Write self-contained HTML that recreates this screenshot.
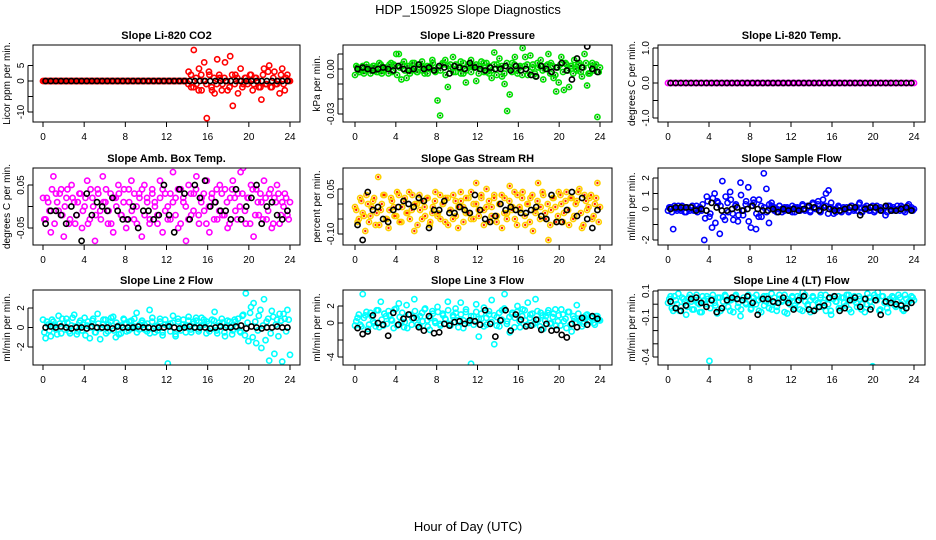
<!DOCTYPE html>
<html><head><meta charset="utf-8"><style>
html,body{margin:0;padding:0;background:#fff;}
svg{display:block;font-family:"Liberation Sans",sans-serif;}
</style></head><body>
<svg id="chart" width="936" height="540" viewBox="0 0 936 540" xmlns="http://www.w3.org/2000/svg">
<text x="468" y="14" font-size="13" text-anchor="middle">HDP_150925  Slope Diagnostics</text>
<text x="468" y="531" font-size="13" text-anchor="middle">Hour of Day (UTC)</text>
</svg>
<script>
const xTicks=[0,4,8,12,16,20,24];
const blackHours=[0.25,0.75,1.25,1.75,2.25,2.75,3.25,3.75,4.25,4.75,5.25,5.75,6.25,6.75,7.25,7.75,8.25,8.75,9.25,9.75,10.25,10.75,11.25,11.75,12.25,12.75,13.25,13.75,14.25,14.75,15.25,15.75,16.25,16.75,17.25,17.75,18.25,18.75,19.25,19.75,20.25,20.75,21.25,21.75,22.25,22.75,23.25,23.75];

const titles=["Slope Li-820 CO2","Slope Li-820 Pressure","Slope Li-820 Temp.","Slope Amb. Box Temp.","Slope Gas Stream RH","Slope Sample Flow","Slope Line 2 Flow","Slope Line 3 Flow","Slope Line 4 (LT) Flow"];
const yTitles=["Licor ppm per min.","kPa per min.","degrees C per min.","degrees C per min.","percent per min.","ml/min per min.","ml/min per min.","ml/min per min.","ml/min per min."];
const yTickVals=[[5,0,-5,-10],[0.01,0,-0.01,-0.02,-0.03],[1,0.5,0,-0.5,-1],[0.05,0,-0.05],[0.05,0,-0.05,-0.1],[2,1,0,-1,-2],[2,0,-2],[2,0,-2,-4],[0.1,0,-0.1,-0.2,-0.3,-0.4]];
const yTickLabels=[["5","0","","-10"],["","0.00","","","-0.03"],["1.0","","0.0","","-1.0"],["0.05","","-0.05"],["0.05","","","-0.10"],["2","1","0","","-2"],["2","0","-2"],["2","0","","-4"],["0.1","","-0.1","","","-0.4"]];

const co2Color=[0,0,0,0,0,0,0,0,0,0,0,0,0,0,0,0,0,0,0,0,0,0,0,0,0,0,0,0,0,0,0,0,0,0,0,0,0,0,0,0,0,0,0,0,0,0,0,0,0,0,0,0,0,0,0,0,3,-2,10,-1,4,-3,6,-12,2,-3,-4,7,1,-1,6,-3,8,-8,2,-4,4,-1,1,0,2,-1,1,-2,-6,4,-1,5,-2,3,-1,-4,4,-3,2,0];
const co2Core=[0,0,0,0,0,0,0,0,0,0,0,0,0,0,0,0,0,0,0,0,0,0,0,0,0,0,0,0,0,0,0,0,0,0,0,0,0,0,0,0,0,0,0,0,0,0,0,0,0,0,0,0,0,0,0,0,-1,2,-2,1,-3,2,0,-1,3,-2,1,-1,2,-3,1,0,-2,2,-1,1,0,-2,1,-1,2,-3,1,0,-2,2,-1,3,-2,1,-1,0,2,-1,1,0];
const co2Black=[0,0,0,0,0,0,0,0,0,0,0,0,0,0,0,0,0,0,0,0,0,0,0,0,0,0,0,0,0,0,0,0,0,0,0,0,0,0,0,0,0,0,0,0,0,0,0,0];
const presColor=[-.004,.001,-.002,.002,-.001,.001,-.003,.002,0,-.002,.003,-.001,.001,-.003,.004,.003,.01,.01,-.007,.005,-.006,.002,-.001,.004,-.002,.001,.005,-.003,.002,0,.006,-.001,-.021,-.031,.004,.006,-.012,.003,.008,-.002,.001,.005,-.003,-.009,.003,.006,.002,-.008,.002,.005,-.002,.004,-.003,-.006,.011,.003,.007,-.005,-.01,-.028,-.017,.004,.008,-.003,.002,.014,.008,-.004,.009,.003,-.005,.001,.006,-.007,.002,.01,.004,-.006,-.015,-.009,.008,-.014,.003,-.012,.002,.006,-.001,.004,-.005,.01,-.011,-.003,.004,.002,-.032,.001];
const presCore=[.002,-.002,.001,-.003,.003,0,-.001,.002,-.002,.004,-.003,.001,0,.003,-.002,.002,-.004,.001,.003,-.001,.002,-.003,.004,0,-.002,.003,-.001,.001,-.003,.002,.004,-.002,.001,-.001,.003,-.004,.002,0,-.002,.003,.001,-.003,.004,-.001,.002,-.002,.001,.003,-.003,0,.004,-.002,.002,-.001,.003,-.004,.001,.002,-.003,.004,0,-.002,.003,-.001,.001,-.004,.002,.003,-.002,.001,-.003,.004,.002,-.001,0,.003,-.003,.002,-.004,.001,.003,-.002,.004,-.001,.002,-.003,0,.003,-.002,.001,.004,-.003,.002,-.001,.003,-.002];
const presBlack=[0,.001,0,-.001,0,.001,0,-.001,.002,0,-.001,0,.003,0,.001,-.001,.002,.001,-.003,.002,.001,0,.004,.001,0,-.001,.001,0,0,.002,-.001,.002,-.001,0,-.004,-.005,.002,0,-.002,.001,.004,-.001,-.007,.007,.001,.015,0,-.002];
const tempColor=[0,0,0,0,0,0,0,0,0,0,0,0,0,0,0,0,0,0,0,0,0,0,0,0,0,0,0,0,0,0,0,0,0,0,0,0,0,0,0,0,0,0,0,0,0,0,0,0,0,0,0,0,0,0,0,0,0,0,0,0,0,0,0,0,0,0,0,0,0,0,0,0,0,0,0,0,0,0,0,0,0,0,0,0,0,0,0,0,0,0,0,0,0,0,0,0];
const tempCore=[0,0,0,0,0,0,0,0,0,0,0,0,0,0,0,0,0,0,0,0,0,0,0,0,0,0,0,0,0,0,0,0,0,0,0,0,0,0,0,0,0,0,0,0,0,0,0,0];
const tempBlack=[0,0,0,0,0,0,0,0,0,0,0,0,0,0,0,0,0,0,0,0,0,0,0,0,0,0,0,0,0,0,0,0,0,0,0,0,0,0,0,0,0,0,0,0,0,0,0,0];
const ambColor=[.02,-.03,.01,-.06,.07,.03,-.01,.04,-.07,.02,-.04,.05,.01,-.02,.03,-.05,0,.06,-.03,.02,-.08,.04,-.01,.07,.01,-.04,.03,-.06,.02,.05,-.02,.01,-.05,.04,.06,-.03,0,.03,-.07,.05,.02,-.04,.04,.01,-.02,.06,-.06,.03,0,-.03,.08,.02,-.05,.04,.01,-.08,.05,-.02,.03,.07,-.04,.02,-.01,.06,-.06,.03,.01,-.03,.05,-.02,.04,-.05,.02,.06,-.01,.03,.08,.09,-.04,.02,.05,-.07,.04,-.02,.01,.06,-.03,.03,-.05,.02,.05,-.04,.01,.03,-.02,.01];
const ambCore=[-.03,.02,-.01,.04,-.04,.01,.03,-.02,0,.04,-.03,.02,-.04,.01,.03,-.01,.02,-.04,.04,0,-.02,.03,-.03,.01,.04,-.01,-.04,.02,0,.03,-.02,.04,-.03,.01,-.01,.03,-.04,.02,.04,-.02,.01,-.03,.03,0,-.04,.02,.04,-.01,-.03,.03,.01,-.02,.04,-.04,.02,0,-.03,.03,-.01,.04,-.02,.01,.03,-.04,0,.02,-.03,.04,-.01,.03,-.02,.01,-.04,.04,.02,-.03,0,.03,-.01,.02,-.04,.04,-.02,.01,.03,-.03,.02,-.01,.04,-.04,.01,.03,-.02,0,.02,-.03];
const ambBlack=[-.04,-.01,-.01,-.02,-.04,0,-.02,-.08,.03,-.02,.01,0,-.01,.02,-.01,-.03,-.03,0,-.05,-.01,-.01,-.03,-.02,.05,-.02,-.06,.04,.03,-.03,.05,.02,.06,0,.01,-.01,-.01,-.03,.04,-.03,0,.02,.05,-.04,0,.01,-.02,-.03,-.01];
const rhColor=[-.01,-.06,.02,-.03,-.09,0,-.04,.01,-.07,.09,-.02,.03,-.05,-.08,.02,-.01,-.04,.03,-.06,.01,-.03,.04,-.02,-.09,0,.03,-.05,-.01,.02,-.07,-.03,.01,-.04,.03,0,-.06,.02,-.02,-.05,.01,-.08,.04,-.01,-.03,.02,-.05,0,.07,-.04,.02,-.02,.05,-.06,-.01,.03,-.04,0,-.08,.02,-.03,.06,-.01,-.05,.03,-.02,.04,-.07,0,.02,-.09,-.03,.07,-.01,.03,-.05,-.12,-.02,.02,-.06,.04,0,-.03,.04,-.07,.02,-.04,.01,.05,-.08,.03,-.02,.02,-.05,0,.07,-.01];
const rhCore=[-.02,-.05,.01,-.04,.03,-.06,-.01,.02,-.03,-.07,0,.03,-.05,-.02,.01,-.04,.04,-.06,-.01,.02,-.03,-.05,.03,0,-.07,-.02,.01,-.04,.02,-.06,-.01,.04,-.03,-.05,0,.02,-.07,-.02,.03,-.04,-.01,.01,-.06,.02,-.03,.04,-.05,0,-.02,.03,-.07,-.01,.01,-.04,.02,-.06,0,.03,-.03,-.05,.01,-.02,.04,-.07,-.01,.02,-.04,0,-.06,.03,-.02,.01,-.05,.04,-.03,0,-.07,.02,-.01,-.04,.03,-.06,.01,-.02,.02,-.05,0,.04,-.03,-.07,.01,-.01,.03,-.04,.02,-.06];
const rhBlack=[-.07,-.12,.04,-.02,-.01,-.05,-.06,-.02,-.01,.01,0,-.01,.02,.01,-.08,-.02,-.02,.01,-.03,-.03,-.01,-.02,-.03,.03,-.02,-.05,-.06,-.04,0,-.02,-.01,-.02,-.03,-.03,-.02,-.01,-.04,-.05,.03,-.06,-.06,-.02,.04,-.04,.02,-.05,-.08,-.02];
const flowColor=[-.1,.1,-1.3,0,.2,-.1,.1,-.2,0,.1,-.1,.2,0,-.1,-2,.8,-.5,-1.2,1,.5,-1.6,1.8,-.7,.4,1.1,-.3,.2,-.8,1.7,-.4,.3,1.4,-1.2,.6,-1.3,-.5,.2,2.3,1.3,-.9,.4,.1,-.2,.2,0,-.1,.1,0,-.2,.1,0,-.1,.2,0,.1,-.1,.3,0,.5,-.1,.2,1,1.2,.4,-.3,0,.1,-.2,0,.1,-.1,.2,0,-.1,.4,-.2,.1,0,-.1,.2,-.1,0,.1,-.1,-.4,.2,0,.1,-.1,0,.2,-.1,0,.3,.1,0];
const flowCore=[.1,-.2,.2,-.1,0,.2,-.2,.1,-.1,.2,0,-.2,.1,.3,-.6,.5,-.3,.7,-.9,.4,.2,-.5,.8,-.2,.6,-.7,.3,-.4,.9,-.1,.5,-.8,.2,.4,-.3,.6,-.5,.1,-.2,.3,.2,-.1,0,.2,-.2,.1,0,-.1,.2,-.2,.1,0,.3,-.1,.2,-.2,.4,.1,.3,-.2,.6,.2,-.3,.1,0,-.2,.2,-.1,.1,0,-.2,.2,-.1,.1,.3,-.2,0,.2,-.1,.1,-.2,.2,0,-.1,.1,-.2,.2,-.1,0,.2,-.1,.1,-.2,.2,0,-.1];
const flowBlack=[0,.1,.1,.1,.1,-.1,0,-.1,.4,.1,-.1,-.1,0,.1,-.1,0,.2,0,-.1,-.1,0,-.2,0,-.1,0,-.1,0,.2,.1,-.1,.1,0,-.1,-.1,0,.1,.1,-.4,0,.1,.1,-.1,.2,-.1,-.1,0,.1,-.1];
const line2Color=[.8,-1.1,.3,-.9,.6,-.2,1.2,-.6,.4,.9,-.4,.2,1.3,-.7,.5,-.3,1,.2,-1.1,.7,-.5,1.4,-1.2,.3,.8,-.4,.6,1.1,-1,.2,-.6,.9,.4,-.3,.7,.1,1.5,-.2,.5,.3,-.4,1.8,.6,-.5,.2,.9,-.8,.3,-3.7,.4,1.2,-.9,.6,-.3,.8,.2,1.1,-.5,.4,.7,-.2,1,.3,.6,-.4,.8,1.6,-.6,.2,.5,-.9,.7,.1,-.3,.6,.9,-.5,1.3,3.5,-1.4,2.1,2.5,-1.6,1.2,-2.1,2.9,.6,-3.4,1.7,-2.7,.8,1.4,-3.5,.9,1.8,-2.8];
const line2Core=[-.5,.6,-.3,.8,.2,-.7,.4,.9,-.2,.5,-.6,1,.1,-.4,.7,.3,-.8,.6,0,.9,-.5,.4,-.1,.8,-.6,.3,1,-.3,.5,-.7,.2,.8,-.4,.6,-.1,.9,-.5,.3,.7,-.2,.4,-.6,1,.1,-.3,.6,-.5,.8,.2,-.4,.5,-.7,.9,0,.3,-.5,.7,-.2,.6,1,-.4,.2,.8,-.6,.4,-.1,.7,-.3,.5,.9,-.5,.2,.6,-.7,.8,0,-.4,1.2,-.8,.5,1.5,-1,.6,-.3,1.8,.2,-1.3,.9,-.6,1.1,.3,-.9,.7,1.4,-.4,.8];
const line2Black=[0,.1,0,.1,0,-.1,0,0,-.1,.1,0,0,0,-.1,.1,0,0,0,.1,0,0,-.1,0,0,.1,0,-.1,0,.1,0,0,0,-.1,0,.1,0,0,.1,.2,-.1,.1,0,-.1,0,0,.1,0,0];
const line3Color=[-.3,.6,-.2,3.4,.9,-.7,1.2,.2,-.4,1.5,2.5,-.3,.8,1.4,.4,-.6,1.7,2.3,.1,-.5,2.1,1,-.2,2.8,.6,-.4,1.2,1.6,.3,-.8,1.4,.2,1.9,-.1,1.1,.5,2.5,-.3,.9,1.7,.3,2.4,-.6,1.3,.2,-4.8,.8,2.2,-1.6,.5,1.8,-.2,1,2.7,-2.5,.7,-.4,1.5,3.4,.2,-1.1,1.2,.6,2,-.5,1.6,.3,2.4,1,-.2,2.8,.4,1.2,-.7,.8,1.5,0,1.1,-.3,.9,1.6,.2,-.6,1.3,-1,.5,2.1,.3,-.4,.7,1,.2,.6,-.2,.8,.3];
const line3Core=[.2,1,-.4,.6,1.3,-.2,.8,0,1.5,-.5,.4,1.1,-.1,.9,.3,1.6,-.3,.7,1.2,.1,-.6,1,.5,1.4,-.2,.8,.2,1.7,-.4,.6,1.1,0,1.3,-.3,.9,.4,1.5,-.1,.7,1.2,-.5,1,.3,1.6,0,.8,-.2,1.3,.5,1.1,-.4,.6,1.4,.1,.9,-.3,1.2,.4,1.7,-.1,.7,1,-.5,1.3,.2,.8,1.5,-.2,.6,1.1,0,1.4,-.4,.9,.3,1.2,-.1,.7,1.6,.2,-.3,1,.5,1.3,-.2,.8,.1,1.1,.4,-.1,.9,.3,.6,0,.8,.4];
const line3Black=[-.6,-1.3,-1,.9,0,-.2,-1.5,1.2,-.2,.5,1,.6,-.5,-.9,.8,-1.2,-1.1,-.1,-.3,.1,.2,-.1,.3,.2,-.2,1.5,-.1,-1.6,.3,1.5,-.9,1,.4,-.4,-.3,.4,-.8,-.1,-.9,-.8,-1.4,-1.7,-.1,-.5,.6,-.2,.8,.5];
const line4Color=[.01,.06,-.05,.03,.08,-.02,.04,-.08,.05,.02,-.04,.07,0,-.06,.03,.06,-.43,.04,.01,-.07,.05,-.03,.07,.02,-.05,.04,.06,-.02,-.09,.03,.01,.07,-.04,.05,0,.03,-.06,.06,.02,-.03,.08,.01,-.05,.04,.02,.07,-.07,.03,.05,-.01,.06,-.04,.09,.02,0,-.06,.05,.03,-.02,.07,.01,-.05,.04,-.08,.06,.02,-.03,.05,.01,.07,-.04,.03,.06,-.02,.04,0,-.06,.08,.02,-.47,.05,.09,-.04,.06,.01,-.06,.03,.05,-.02,.07,0,-.05,.04,.02,.06,.03];
const line4Core=[.04,-.03,.06,0,-.05,.05,.02,-.02,.07,-.04,.03,.01,-.06,.06,0,.04,-.03,.07,-.01,.05,-.05,.02,.06,-.02,.03,-.06,.07,.01,-.04,.05,0,.06,-.03,.02,.07,-.05,.04,-.01,.06,.01,-.04,.05,-.02,.07,.03,-.06,.04,0,.06,-.03,.02,.05,-.05,.07,-.01,.03,.06,-.04,.01,.05,-.02,.07,0,-.05,.04,.02,.06,-.03,.05,-.01,.07,-.06,.03,.01,.06,-.04,.04,0,.05,-.02,.07,.03,-.05,.06,.01,-.03,.04,.06,-.01,.02,.05,-.04,.07,0,.03,.05];
const line4Black=[.02,-.03,-.05,-.01,.04,.05,.01,-.02,.03,-.06,-.03,.03,.05,.04,.03,.06,.01,-.08,.04,.04,.02,.01,.05,.01,-.04,.03,.06,-.04,-.05,-.02,-.01,.05,.06,-.05,-.03,.03,.05,-.02,.04,-.04,.03,-.08,.02,.01,0,-.01,-.03,.01];

const colorSeries=[co2Color,presColor,tempColor,ambColor,rhColor,flowColor,line2Color,line3Color,line4Color];
const coreSeries=[co2Core,presCore,tempCore,ambCore,rhCore,flowCore,line2Core,line3Core,line4Core];
const blackSeries=[co2Black,presBlack,tempBlack,ambBlack,rhBlack,flowBlack,line2Black,line3Black,line4Black];

// layout (not data)
const cols=[{b0:33,b1:300,x0:43,x24:290},{b0:343,b1:612,x0:355,x24:600},{b0:658,b1:925,x0:668,x24:914}];
const rows=[{t:45,b:122},{t:168,b:245},{t:290,b:365}];
const yCal=[[0,81,-10,112],[0,69,-0.03,114],[0,83,1,48],[0.05,185,-0.05,228],[0.05,189,-0.1,234],[2,178,-2,240],[2,308,-2,347],[2,306,-4,357],[0.1,291,-0.4,357]];
const colors=["#ff0000","#00e000","#ff00ff","#ff00ff","#ffd000","#0000ff","#00ffff","#00ffff","#00ffff"];

const NS="http://www.w3.org/2000/svg";
const svg=document.getElementById('chart');
function mk(tag,attrs,parent){const e=document.createElementNS(NS,tag);for(const k in attrs)e.setAttribute(k,attrs[k]);(parent||svg).appendChild(e);return e;}

for(let p=0;p<9;p++){
  const c=cols[p%3], r=rows[Math.floor(p/3)], cal=yCal[p];
  const xS=h=>c.x0+(c.x24-c.x0)*h/24;
  const yS=v=>cal[1]+(cal[3]-cal[1])*(v-cal[0])/(cal[2]-cal[0]);
  const g=mk('g',{});
  
  
  const clip=mk('clipPath',{id:'clip'+p},g);
  mk('rect',{x:c.b0,y:r.t,width:c.b1-c.b0,height:r.b-r.t},clip);
  const pts=mk('g',{'clip-path':'url(#clip'+p+')'},g);
  
  
  const drawColor=(arr,off)=>{
    arr.forEach((v,i)=>{
      const h=off?(i+0.5)*24/arr.length:i*24/(arr.length-1);
      const e=mk('circle',{cx:xS(h),cy:yS(v),r:2.6,fill:'none',stroke:colors[p],'stroke-width':1.6},pts);
      
      
      if(p===4){const e2=mk('circle',{cx:xS(h),cy:yS(v),r:1.2,fill:'#ff2000'},pts);}
      if(p===1){const e2=mk('circle',{cx:xS(h),cy:yS(v),r:1,fill:'#007000'},pts);}
    });
  };
  drawColor(colorSeries[p],false);
  drawColor(coreSeries[p],true);
  blackSeries[p].forEach((v,i)=>{
    const e=mk('circle',{cx:xS(blackHours[i]),cy:yS(v),r:2.6,fill:'none',stroke:'#000','stroke-width':1.6},pts);
    
    
  });
  const box=mk('rect',{x:c.b0,y:r.t,width:c.b1-c.b0,height:r.b-r.t,fill:'none',stroke:'#000','stroke-width':1},g);
  
  
  const t=mk('text',{x:(c.b0+c.b1)/2,y:r.t-6,'font-size':11,'font-weight':'bold','text-anchor':'middle'},g);
  t.textContent=titles[p];
  
  
  xTicks.forEach(h=>{
    const x=xS(h);
    mk('line',{x1:x,x2:x,y1:r.b,y2:r.b+5,stroke:'#000'},g);
    const tl=mk('text',{x:x,y:r.b+18,'font-size':10,'text-anchor':'middle'},g);
    tl.textContent=String(h);
    
    
  });
  const yt=yTickVals[p];
  mk('line',{x1:c.b0-5,x2:c.b0-5,y1:yS(yt[0]),y2:yS(yt[yt.length-1]),stroke:'#000'},g);
  yt.forEach((v,i)=>{
    const y=yS(v);
    mk('line',{x1:c.b0-5,x2:c.b0,y1:y,y2:y,stroke:'#000'},g);
    if(yTickLabels[p][i]){
      const tl=mk('text',{x:0,y:0,'font-size':10,'text-anchor':'middle',transform:'translate('+(c.b0-9)+','+y+') rotate(-90)'},g);
      tl.textContent=yTickLabels[p][i];
      
      
    }
  });
  const yl=mk('text',{x:0,y:0,'font-size':10,'text-anchor':'middle',transform:'translate('+(c.b0-23)+','+((r.t+r.b)/2)+') rotate(-90)'},g);
  yl.textContent=yTitles[p];
  
  
}
</script>
</body></html>
